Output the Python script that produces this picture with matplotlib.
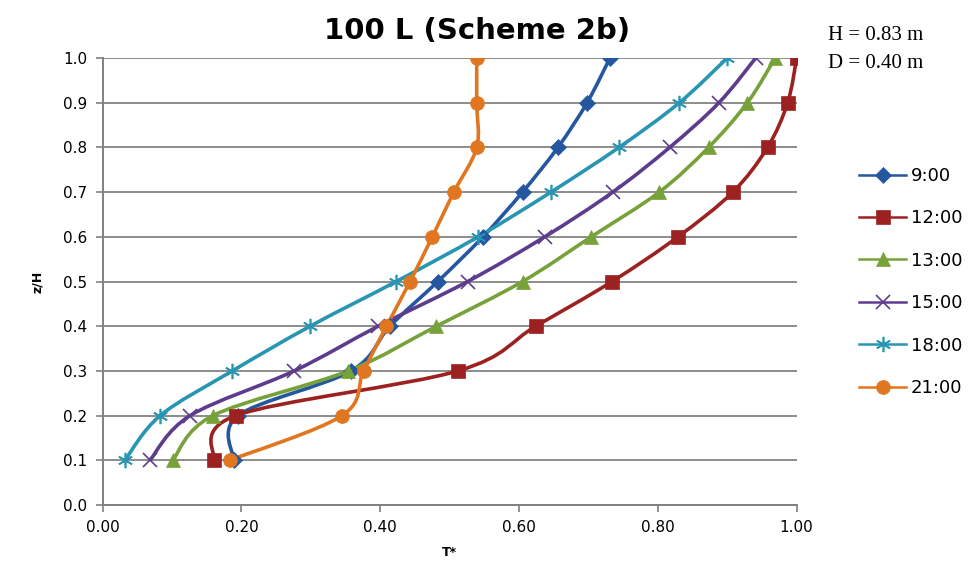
import matplotlib.pyplot as plt
from matplotlib.path import Path
from matplotlib.patches import PathPatch
from matplotlib.lines import Line2D

# heights z/H
z = [0.1, 0.2, 0.3, 0.4, 0.5, 0.6, 0.7, 0.8, 0.9, 1.0]

# T* profiles (bottom to top)
t_0900 = [0.189, 0.195, 0.358, 0.414, 0.483, 0.548, 0.605, 0.656, 0.698, 0.731]
t_1200 = [0.160, 0.192, 0.512, 0.624, 0.734, 0.829, 0.908, 0.958, 0.987, 1.000]
t_1300 = [0.101, 0.159, 0.354, 0.481, 0.605, 0.704, 0.802, 0.873, 0.929, 0.969]
t_1500 = [0.068, 0.126, 0.276, 0.397, 0.526, 0.637, 0.735, 0.817, 0.888, 0.941]
t_1800 = [0.032, 0.083, 0.187, 0.299, 0.423, 0.541, 0.646, 0.744, 0.831, 0.900]
t_2100 = [0.183, 0.345, 0.376, 0.409, 0.443, 0.475, 0.506, 0.539, 0.539, 0.539]

labels = ["9:00", "12:00", "13:00", "15:00", "18:00", "21:00"]
series = [t_0900, t_1200, t_1300, t_1500, t_1800, t_2100]
colors = ["#2457A0", "#9C2221", "#77A23A", "#5D3C8E", "#2896B2", "#E0761F"]
markers = ["D", "s", "^", "x", (6, 2, 0), "o"]
msizes = [8, 10, 10, 10, 11, 10]


def smooth_path(xs, ys):
    # Excel style smoothed line: cubic bezier through each point
    pts = list(zip(xs, ys))
    verts = [pts[0]]
    codes = [Path.MOVETO]
    n = len(pts)
    for i in range(n - 1):
        p0 = pts[i - 1] if i > 0 else pts[i]
        p1 = pts[i]
        p2 = pts[i + 1]
        p3 = pts[i + 2] if i + 2 < n else pts[i + 1]
        c1 = (p1[0] + (p2[0] - p0[0]) / 6, p1[1] + (p2[1] - p0[1]) / 6)
        c2 = (p2[0] - (p3[0] - p1[0]) / 6, p2[1] - (p3[1] - p1[1]) / 6)
        verts += [c1, c2, p2]
        codes += [Path.CURVE4] * 3
    return Path(verts, codes)


fig = plt.figure(figsize=(9.68, 5.71), dpi=100)
ax = fig.add_axes([0.106, 0.1156, 0.717, 0.7828])

handles = []
for vals, lab, col, mk, ms in zip(series, labels, colors, markers, msizes):
    ax.add_patch(PathPatch(smooth_path(vals, z), facecolor="none", edgecolor=col,
                           lw=2.6, zorder=3))
    mew = 1.2 if mk in ("x",) or isinstance(mk, tuple) else 0.5
    ax.plot(vals, z, linestyle="none", marker=mk, ms=ms, color=col,
            markeredgecolor=col, mew=mew, zorder=4)
    handles.append(Line2D([], [], color=col, lw=1.8, marker=mk, ms=ms,
                          markeredgecolor=col, mew=mew, label=lab))

ax.set_xlim(0, 1.0)
ax.set_ylim(0, 1.0)
ax.set_xticks([0, 0.2, 0.4, 0.6, 0.8, 1.0])
ax.set_xticklabels(["0.00", "0.20", "0.40", "0.60", "0.80", "1.00"])
ax.set_yticks([i / 10 for i in range(11)])
ax.set_yticklabels([f"{i / 10:.1f}" for i in range(11)])
ax.tick_params(axis="both", direction="out", length=5, width=1.2, color="#808080",
               labelsize=11, pad=6)
ax.grid(axis="y", color="#8C8C8C", lw=1.4)
ax.set_axisbelow(True)
for s in ["top", "right"]:
    ax.spines[s].set_visible(False)
for s in ["left", "bottom"]:
    ax.spines[s].set_color("#808080")
    ax.spines[s].set_linewidth(1.4)

ax.set_xlabel("T*", fontsize=9, fontweight="bold", labelpad=8)
ax.set_ylabel("z/H", fontsize=9, fontweight="bold", labelpad=14)

fig.text(477 / 968, 1 - 31 / 571, "100 L (Scheme 2b)", fontsize=21, fontweight="bold",
         ha="center", va="center")
fig.text(828 / 968, 1 - 36 / 571, "H = 0.83 m", fontsize=15, family="Liberation Serif",
         ha="left", va="center")
fig.text(828 / 968, 1 - 64 / 571, "D = 0.40 m", fontsize=15, family="Liberation Serif",
         ha="left", va="center")

fig.legend(handles=handles, loc="center left", bbox_to_anchor=(843 / 968, 1 - 282 / 571),
           frameon=False, fontsize=13, handlelength=2.6, labelspacing=1.35,
           handletextpad=0.25)

fig.savefig("out.png", dpi=100)
